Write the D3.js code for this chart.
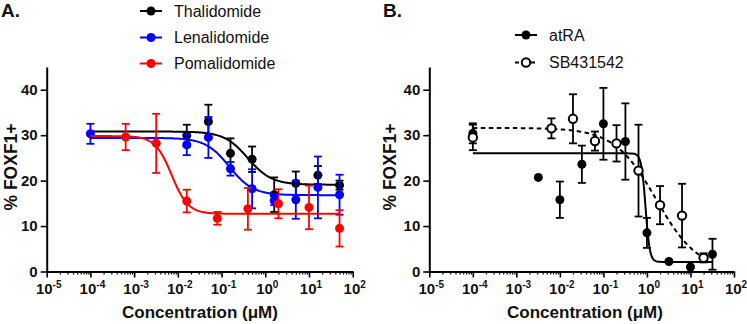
<!DOCTYPE html>
<html><head><meta charset="utf-8">
<script src="https://cdn.jsdelivr.net/npm/d3@7"></script>
<style>body{margin:0;background:#fff} svg{display:block}</style>
</head><body><svg id="c" width="747" height="324"></svg>
<script>
// ---- data ----
const thalConc = [0.016, 0.05, 0.16, 0.5, 1.6, 5, 16, 50];
const thalVal  = [29.9, 33.0, 26.0, 24.7, 16.9, 19.4, 21.2, 19.0];
const thalErr  = [2.4, 3.7, 3.3, 2.8, 3.8, 2.6, 2.0, 1.0];
const lenaConc = [1e-4, 0.016, 0.05, 0.16, 0.5, 1.6, 5, 16, 50];
const lenaVal  = [30.3, 27.9, 29.5, 22.6, 18.2, 15.6, 15.8, 18.5, 16.9];
const lenaErr  = [2.2, 2.3, 4.5, 1.5, 4.3, 1.0, 4.2, 6.8, 4.4];
const pomaConc = [6.4e-4, 3.2e-3, 0.016, 0.08, 0.4, 2, 10, 50];
const pomaVal  = [29.6, 28.2, 15.5, 11.7, 13.8, 14.9, 14.1, 9.5];
const pomaErr  = [2.9, 6.5, 2.5, 1.4, 4.6, 3.2, 4.8, 4.0];
const atraConc = [1e-4, 3.2e-3, 0.01, 0.032, 0.1, 0.32, 1, 3.2, 10, 32];
const atraVal  = [30.4, 20.7, 15.8, 23.6, 32.5, 28.6, 8.5, 2.2, 1.0, 3.8];
const atraErr  = [2.2, 0, 4.0, 4.1, 7.9, 8.4, 3.3, 0, 0, 3.4];
const sbConc   = [1e-4, 6.4e-3, 0.02, 0.064, 0.2, 0.64, 2, 6.4, 20];
const sbVal    = [29.5, 31.5, 33.6, 28.7, 28.2, 22.2, 14.6, 12.3, 3.0];
const sbErr    = [2.8, 2.2, 5.4, 2.1, 4.0, 10.1, 4.2, 7.0, 1.0];
// fitted dose-response curves: [top, bottom, EC50 (µM), Hill slope, first conc, last conc]
const thalFit = [30.8, 19.1, 0.40, 1.6, 1e-4, 50];
const lenaFit = [29.4, 16.8, 0.15, 1.6, 1e-4, 50];
const pomaFit = [29.8, 12.7, 0.0072, 2.3, 1e-4, 50];
const atraFit = [26.0, 2.1, 0.93, 9, 1e-4, 32];
const sbFit   = [31.6, 0.0, 1.65, 0.9, 1e-4, 20];
const xTickExps = [-5, -4, -3, -2, -1, 0, 1, 2];
const yTicks = [0, 10, 20, 30, 40];
const legendA = ["Thalidomide", "Lenalidomide", "Pomalidomide"];
const legendB = ["atRA", "SB431542"];

const FONT = '"Liberation Sans", Arial, Helvetica, sans-serif';
const svg = d3.select("#c");

function fitCurve(p) {
  const [top, bot, ec50, h, a, b] = p;
  const la = Math.log10(a), lb = Math.log10(b);
  const pts = [];
  const n = 300;
  for (let i = 0; i <= n; i++) {
    const lx = la + (lb - la) * i / n;
    const c = Math.pow(10, lx);
    pts.push([c, bot + (top - bot) / (1 + Math.pow(c / ec50, h))]);
  }
  return pts;
}

function makePanel(x0, x1, yLabelX, xLabelX) {
  const x = d3.scaleLog().domain([1e-5, 1e2]).range([x0, x1]);
  const y = d3.scaleLinear().domain([0, 45]).range([271.5, 67]);
  const g = svg.append("g");
  // x axis major
  const xa = g.append("g").attr("transform", `translate(0,${y(0)})`)
    .call(d3.axisBottom(x).tickValues(xTickExps.map(e => Math.pow(10, e))).tickSize(6).tickSizeOuter(0).tickFormat(""));
  xa.select(".domain").attr("stroke-width", 2);
  xa.selectAll(".tick line").attr("stroke-width", 1.6);
  // minor ticks
  const minors = [];
  for (let e = -5; e < 2; e++) for (let k = 2; k <= 9; k++) minors.push(k * Math.pow(10, e));
  const xm = g.append("g").attr("transform", `translate(0,${y(0)})`)
    .call(d3.axisBottom(x).tickValues(minors).tickSize(3).tickFormat(""));
  xm.select(".domain").remove();
  xm.selectAll(".tick line").attr("stroke-width", 1.2);
  // x tick labels with superscripts
  xTickExps.forEach(e => {
    const t = g.append("text").attr("x", x(Math.pow(10, e)) + 2).attr("y", y(0) + 22.5)
      .attr("text-anchor", "middle").attr("font-family", FONT).attr("font-weight", "bold")
      .attr("font-size", 15).attr("fill", "#111");
    t.append("tspan").text("10");
    t.append("tspan").attr("font-size", 10).attr("dy", -6).text(e);
  });
  // y axis
  const ya = g.append("g").attr("transform", `translate(${x0},0)`)
    .call(d3.axisLeft(y).tickValues(yTicks).tickSize(6).tickSizeOuter(0).tickPadding(3));
  ya.attr("font-family", FONT).attr("font-size", 15).attr("font-weight", "bold");
  ya.select(".domain").attr("stroke-width", 2);
  ya.selectAll(".tick line").attr("stroke-width", 1.6);
  ya.selectAll(".tick text").attr("fill", "#111");
  // axis titles
  g.append("text").attr("transform", `translate(${yLabelX},167) rotate(-90)`)
    .attr("text-anchor", "middle").attr("dominant-baseline", "central")
    .attr("font-family", FONT).attr("font-weight", "bold").attr("font-size", 17.5).attr("fill", "#111")
    .text("% FOXF1+");
  g.append("text").attr("x", xLabelX).attr("y", 318)
    .attr("text-anchor", "middle").attr("font-family", FONT).attr("font-weight", "bold")
    .attr("font-size", 17).attr("fill", "#111").text("Concentration (μM)");
  return {g, x, y};
}

function drawSeries(P, conc, val, err, fit, color, opts) {
  const {g, x, y} = P;
  const line = d3.line().x(d => x(d[0])).y(d => y(d[1]));
  g.append("path").attr("d", line(fitCurve(fit))).attr("fill", "none")
    .attr("stroke", color).attr("stroke-width", 2)
    .attr("stroke-dasharray", opts.dashed ? "4.5,3.5" : null);
  conc.forEach((c, i) => {
    const e = err[i];
    if (e > 0) {
      const cx = x(c), yt = y(val[i] + e), yb = y(val[i] - e);
      g.append("line").attr("x1", cx).attr("x2", cx).attr("y1", yt).attr("y2", yb)
        .attr("stroke", color).attr("stroke-width", 1.8);
      [yt, yb].forEach(yy => g.append("line").attr("x1", cx - 4).attr("x2", cx + 4)
        .attr("y1", yy).attr("y2", yy).attr("stroke", color).attr("stroke-width", 1.8));
    }
  });
  conc.forEach((c, i) => {
    g.append("circle").attr("cx", x(c)).attr("cy", y(val[i])).attr("r", opts.open ? 4.2 : 4.5)
      .attr("fill", opts.open ? "#fff" : color).attr("stroke", color)
      .attr("stroke-width", opts.open ? 2 : 0);
  });
}

function legendRow(xl, xr, yy, label, color, opts) {
  svg.append("line").attr("x1", xl).attr("x2", xr).attr("y1", yy).attr("y2", yy)
    .attr("stroke", color).attr("stroke-width", 2)
    .attr("stroke-dasharray", opts.dashed ? "4,4" : null);
  svg.append("circle").attr("cx", (xl + xr) / 2).attr("cy", yy).attr("r", opts.open ? 4.2 : 4.5)
    .attr("fill", opts.open ? "#fff" : color).attr("stroke", color).attr("stroke-width", opts.open ? 2 : 0);
  svg.append("text").attr("x", xr + 12).attr("y", yy).attr("dominant-baseline", "central")
    .attr("font-family", FONT).attr("font-size", 16).attr("fill", "#111").text(label);
}

// Panel A
const A = makePanel(46.7, 352.7, 10.5, 200);
drawSeries(A, thalConc, thalVal, thalErr, thalFit, "#000", {});
drawSeries(A, lenaConc, lenaVal, lenaErr, lenaFit, "#0000ff", {});
drawSeries(A, pomaConc, pomaVal, pomaErr, pomaFit, "#ff0000", {});
legendRow(140, 162, 11, legendA[0], "#000", {});
legendRow(140, 162, 37.5, legendA[1], "#0000ff", {});
legendRow(140, 162, 63.5, legendA[2], "#ff0000", {});

// Panel B
const B = makePanel(429.3, 734, 390, 585);
drawSeries(B, atraConc, atraVal, atraErr, atraFit, "#000", {});
drawSeries(B, sbConc, sbVal, sbErr, sbFit, "#000", {dashed: true, open: true});
legendRow(515, 537, 35, legendB[0], "#000", {});
legendRow(515, 537, 62.5, legendB[1], "#000", {dashed: true, open: true});

// panel letters
svg.append("text").attr("x", 1).attr("y", 17).attr("font-family", FONT).attr("font-weight", "bold")
  .attr("font-size", 19).attr("fill", "#111").text("A.");
svg.append("text").attr("x", 383).attr("y", 17).attr("font-family", FONT).attr("font-weight", "bold")
  .attr("font-size", 19).attr("fill", "#111").text("B.");
</script></body></html>
